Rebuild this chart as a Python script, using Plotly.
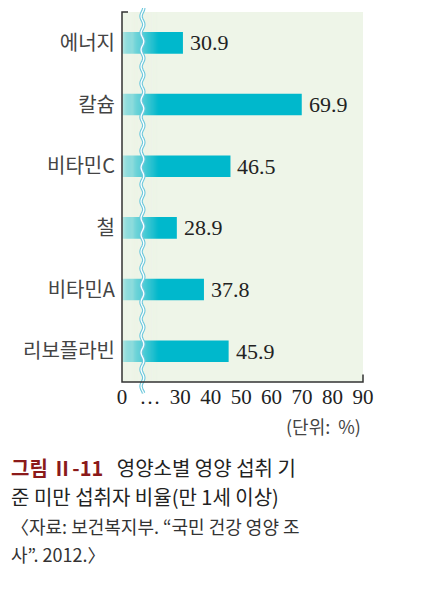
import plotly.graph_objects as go
import numpy as np

categories = ["에너지", "칼슘", "비타민C", "철", "비타민A", "리보플라빈"]
values = [30.9, 69.9, 46.5, 28.9, 37.8, 45.9]
tick_vals = [10.9, 20.1, 30, 40, 50, 60, 70, 80, 90]
tick_text = ["0", "…", "30", "40", "50", "60", "70", "80", "90"]

serif = "Liberation Serif"
kr = "Noto Sans CJK KR"
teal = "#00b8cc"

fig = go.Figure()
fig.add_trace(go.Bar(
    y=categories, x=values, base=0, orientation="h", width=0.35,
    marker=dict(color=teal, line=dict(width=0)),
))

ann = []
for c, v in zip(categories, values):
    ann.append(dict(x=v, y=c, xref="x", yref="y", text=f"{v:.1f}", showarrow=False,
                    xanchor="left", xshift=5, yanchor="middle",
                    font=dict(family=serif, size=22, color="#222")))

shapes = []
n = 40
for i in range(n):
    x0 = 10.9 + i * 0.3
    shapes.append(dict(type="rect", xref="x", yref="paper", x0=x0, x1=x0 + 0.3,
                       y0=0, y1=1, fillcolor="#eef5e8", opacity=0.85 * (1 - i / n),
                       line=dict(width=0), layer="above"))
ys = np.linspace(-0.03, 1.03, 300)
xs = 17.6 + 0.45 * np.sin(ys * 2 * np.pi * 22)
path = "M " + " L ".join(f"{a:.3f},{b:.4f}" for a, b in zip(xs, ys))
shapes.append(dict(type="path", xref="x", yref="paper", path=path,
                   line=dict(color="#6cc8dc", width=3.5), layer="above"))
shapes.append(dict(type="path", xref="x", yref="paper", path=path,
                   line=dict(color="white", width=1.3), layer="above"))
shapes.append(dict(type="path", xref="paper", yref="paper",
                   path="M 0.025,1 L 0,1 L 0,0 L 1,0 L 1,0.02",
                   line=dict(color="#333", width=1.5), layer="above"))
fig.update_layout(shapes=shapes)

fig.update_xaxes(range=[10.9, 90], tickvals=tick_vals, ticktext=tick_text,
                 tickfont=dict(family=serif, size=21, color="#222"),
                 showgrid=False, zeroline=False, showline=False, ticks="", fixedrange=True)
fig.update_yaxes(autorange="reversed", tickfont=dict(family=kr, size=20, color="#444"),
                 showgrid=False, showline=False, ticks="", ticklabelstandoff=6, range=[5.6, -0.6])

foot = [
    dict(x=1.0, y=-0.118, text="(단위:  %)", font=dict(family=kr, size=18, color="#444"), xanchor="right"),
    dict(x=-0.47, y=-0.23, text="<b><span style='color:#8b1a1a'>그림 Ⅱ-11</span></b>   영양소별 영양 섭취 기",
         font=dict(family=kr, size=20, color="#222"), xanchor="left"),
    dict(x=-0.47, y=-0.31, text="준 미만 섭취자 비율(만 1세 이상)",
         font=dict(family=kr, size=20, color="#222"), xanchor="left"),
    dict(x=-0.47, y=-0.39, text="〈자료: 보건복지부. “국민 건강 영양 조",
         font=dict(family=kr, size=18, color="#333"), xanchor="left"),
    dict(x=-0.47, y=-0.465, text="사”. 2012.〉",
         font=dict(family=kr, size=18, color="#333"), xanchor="left"),
]
for a in foot:
    a.update(xref="paper", yref="paper", showarrow=False, yanchor="middle")
fig.update_layout(annotations=ann + foot)

fig.update_layout(width=425, height=606, margin=dict(l=114, r=70, t=4, b=232),
                  plot_bgcolor="#eef5e8", paper_bgcolor="white", showlegend=False)
fig.write_html("out.html")
